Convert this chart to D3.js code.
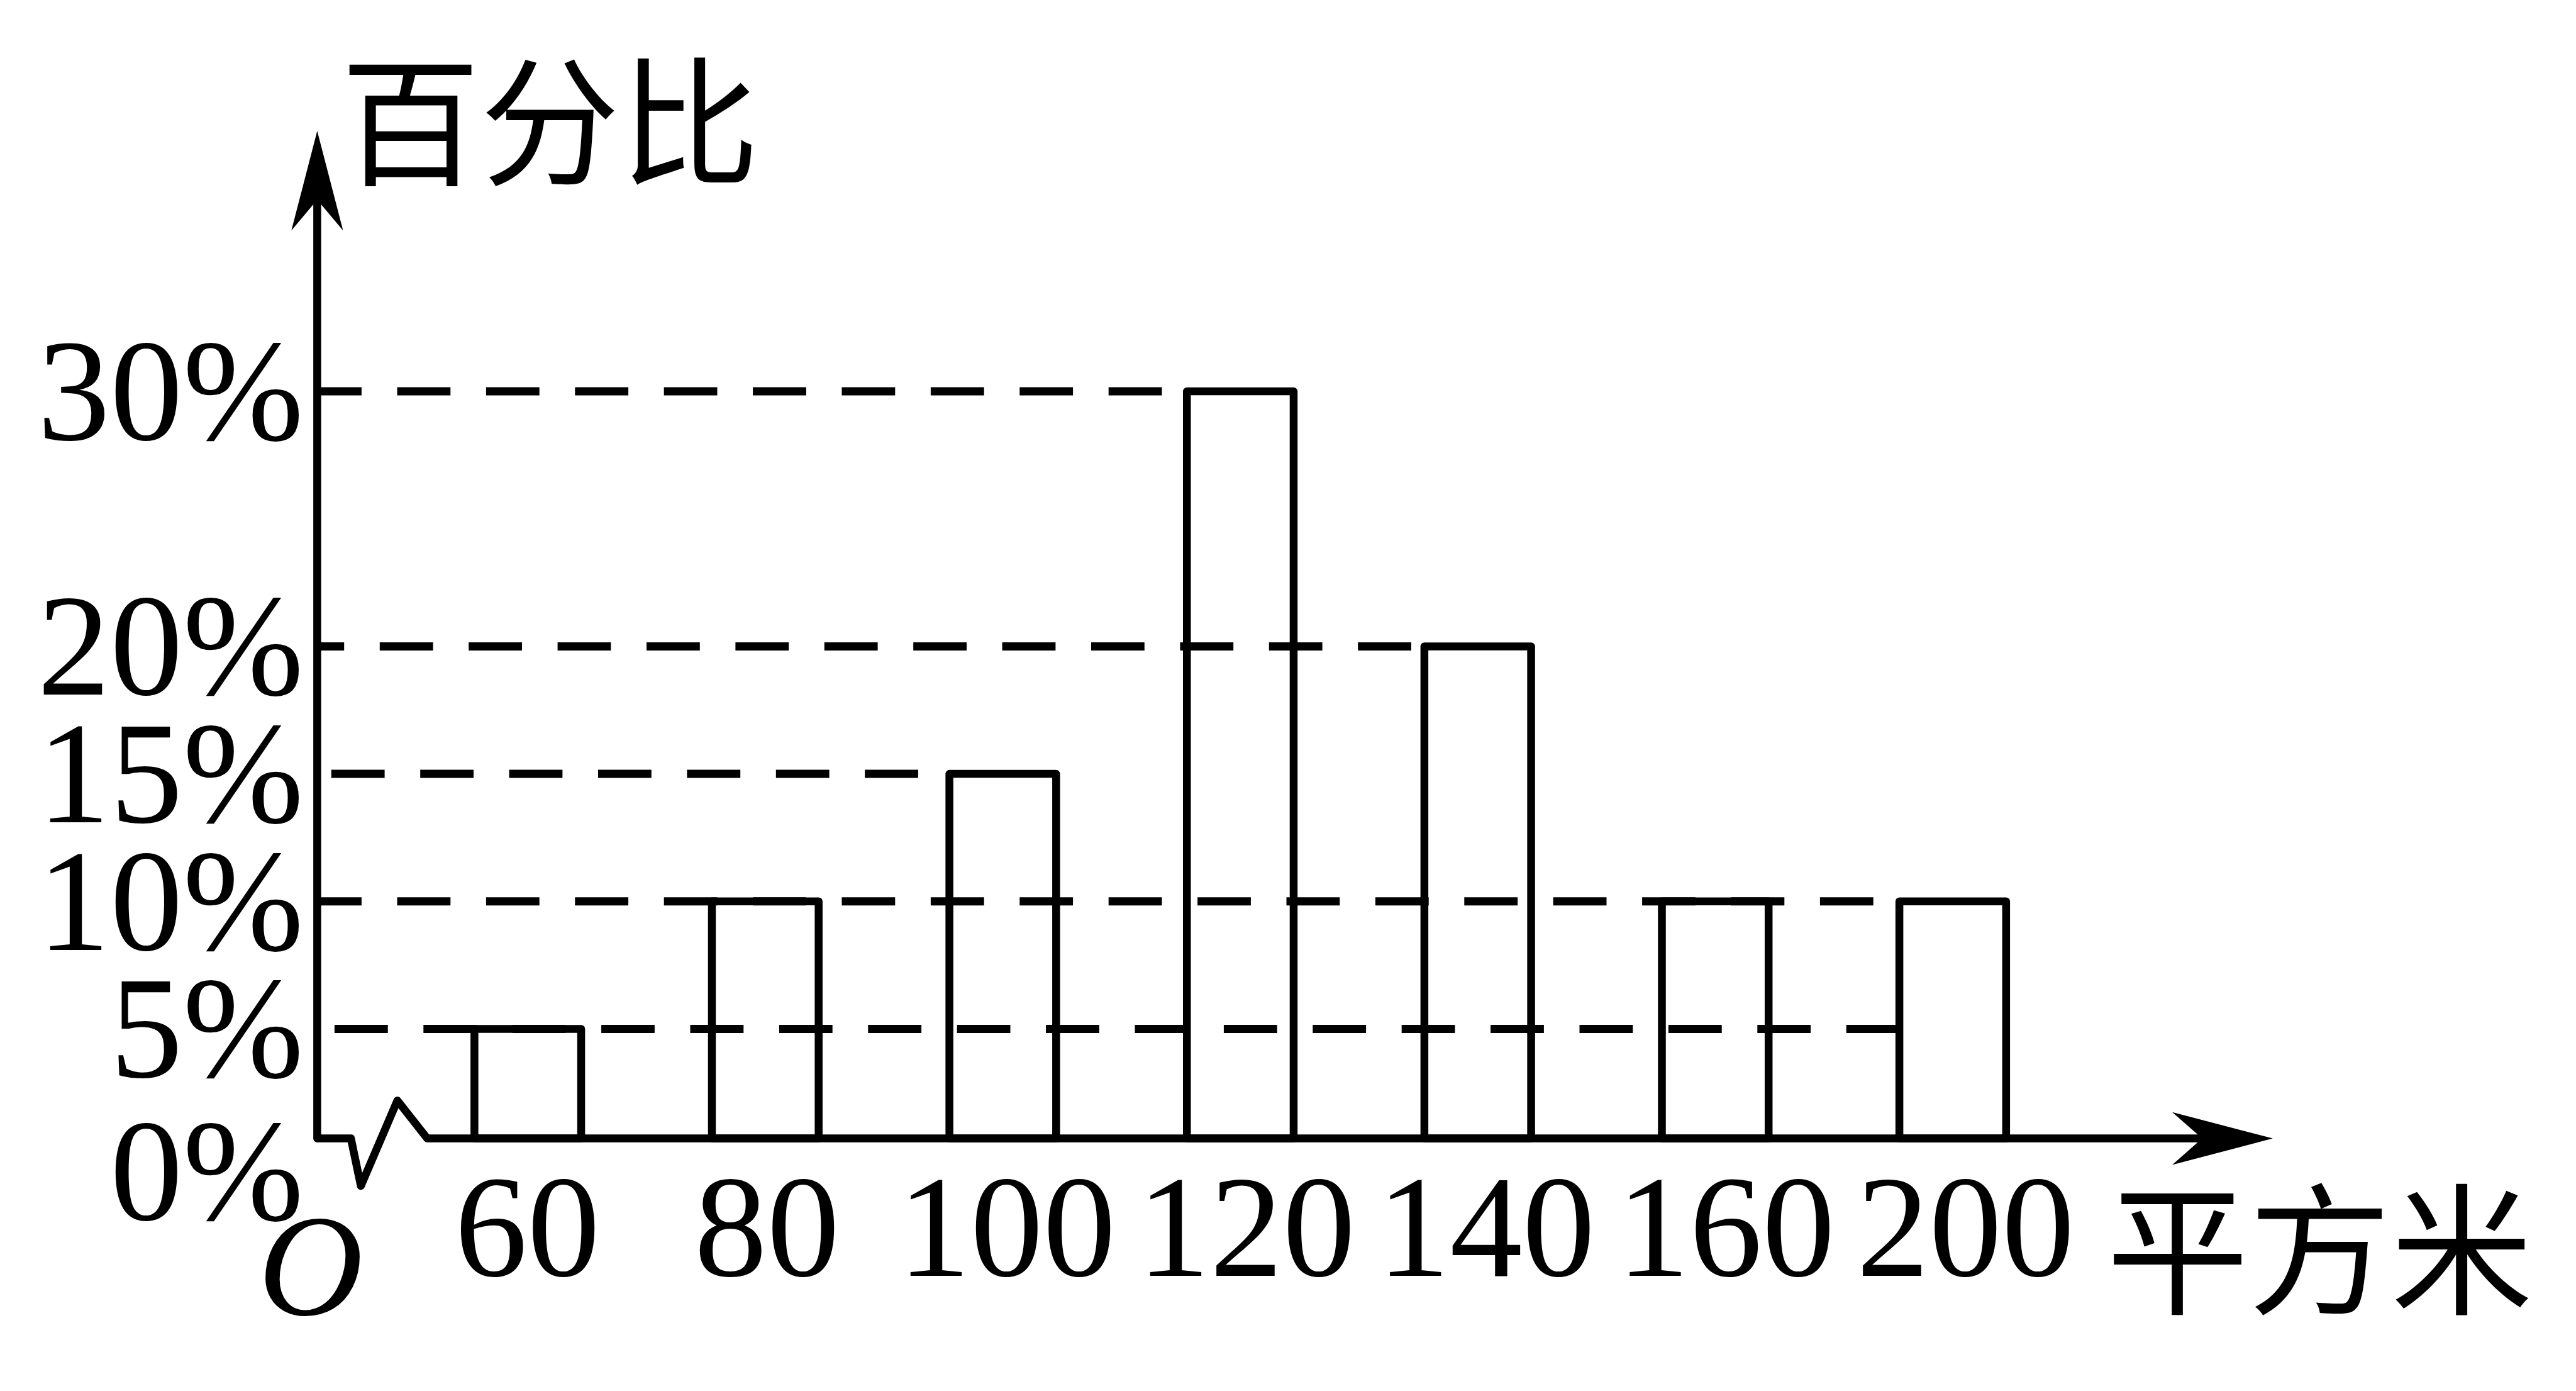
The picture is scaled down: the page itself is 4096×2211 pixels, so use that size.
<!DOCTYPE html>
<html>
<head>
<meta charset="utf-8">
<script src="https://cdn.jsdelivr.net/npm/d3@7"></script>
<style>
  html, body { margin: 0; padding: 0; background: #fff; }
  svg { display: block; }
</style>
</head>
<body>
<script>
// ---------- data ----------
const categories = ["60", "80", "100", "120", "140", "160", "200"];
const values = [5, 10, 15, 30, 20, 10, 10];           // percent
const yTicks = [0, 5, 10, 15, 20, 30];
const yTickLabels = ["0%", "5%", "10%", "15%", "20%", "30%"];
const guideTicks = [5, 10, 15, 20, 30];
const guideEnds = ["200", "200", "100", "140", "120"]; // bar whose left edge ends each guide
const yTitle = "百分比";
const xTitle = "平方米";
const originLabel = "O";

// ---------- layout ----------
const W = 4096, H = 2211;
const serif = "'Liberation Serif', 'Times New Roman', serif";
const cjk = "'Noto Sans CJK SC', 'Noto Sans CJK JP', sans-serif";
const lw = 12.5;

const svg = d3.select("body").append("svg")
  .attr("width", W).attr("height", H)
  .attr("viewBox", `0 0 ${W} ${H}`);
svg.append("rect").attr("width", W).attr("height", H).attr("fill", "#fff");

const axisX = 504.4;
const y = d3.scaleLinear().domain([0, 5, 30]).range([1809.6, 1635.4, 622.1]);
const x = d3.scaleBand().domain(categories).range([650.4, 3293.8])
  .paddingInner(0.5506).paddingOuter(0.2753);
const xLab = d3.scalePoint().domain(categories).range([838.4, 3125.3]);

// ---------- dashed guides ----------
const dashOffsets = {5: 113.9, 10: 14.3, 15: 119, 20: 42, 30: 14.3};
svg.append("g").selectAll("line").data(guideTicks).join("line")
  .attr("x1", axisX)
  .attr("x2", (d, i) => x(guideEnds[i]))
  .attr("y1", d => y(d)).attr("y2", d => y(d))
  .attr("stroke", "#000").attr("stroke-width", 13)
  .attr("stroke-dasharray", "84.8 56.6")
  .attr("stroke-dashoffset", d => dashOffsets[d]);

// ---------- bars ----------
svg.append("g").selectAll("rect").data(values).join("rect")
  .attr("x", (d, i) => x(categories[i]))
  .attr("y", d => y(d))
  .attr("width", x.bandwidth())
  .attr("height", d => y(0) - y(d))
  .attr("fill", "none").attr("stroke", "#000")
  .attr("stroke-width", lw).attr("stroke-linejoin", "round");

// ---------- axes ----------
const y0 = y(0);
const xArrowTip = 3613.9, xArrowBack = 3454, xArrowNotch = 3501.6, xArrowHalf = 41.85;
const yArrowTip = 208.1, yArrowBack = 366.4, yArrowNotch = 317.4, yArrowHalf = 41.1;

const axisPath = d3.path();
axisPath.moveTo(axisX, yArrowNotch);
axisPath.lineTo(axisX, y0);
axisPath.lineTo(558, y0);
axisPath.lineTo(573.8, 1885);
axisPath.lineTo(631.9, 1749.3);
axisPath.lineTo(679.4, y0);
axisPath.lineTo(xArrowNotch, y0);
svg.append("path").attr("d", axisPath.toString())
  .attr("fill", "none").attr("stroke", "#000")
  .attr("stroke-width", lw).attr("stroke-linejoin", "round");

// y arrow
svg.append("path")
  .attr("d", `M${axisX},${yArrowTip} L${axisX + yArrowHalf},${yArrowBack} L${axisX},${yArrowNotch} L${axisX - yArrowHalf},${yArrowBack} Z`)
  .attr("fill", "#000");
// x arrow
svg.append("path")
  .attr("d", `M${xArrowTip},${y0} L${xArrowBack},${y0 + xArrowHalf} L${xArrowNotch},${y0} L${xArrowBack},${y0 - xArrowHalf} Z`)
  .attr("fill", "#000");

// ---------- tick labels ----------
svg.append("g").selectAll("text").data(yTicks).join("text")
  .attr("x", 483)
  .attr("y", d => d === 0 ? 1939 : y(d) + 77)
  .attr("text-anchor", "end")
  .attr("font-family", serif).attr("font-size", 231)
  .text((d, i) => yTickLabels[i]);

svg.append("g").selectAll("text").data(categories).join("text")
  .attr("x", d => xLab(d))
  .attr("y", 2028)
  .attr("text-anchor", "middle")
  .attr("font-family", serif).attr("font-size", 231)
  .text(d => d);

// origin
svg.append("text")
  .attr("x", 494).attr("y", 2090)
  .attr("text-anchor", "middle")
  .attr("font-family", serif).attr("font-style", "italic").attr("font-size", 231)
  .text(originLabel);

// axis titles
svg.append("text")
  .attr("x", 874.6).attr("y", 179.5)
  .attr("text-anchor", "middle").attr("dominant-baseline", "central")
  .attr("font-family", cjk).attr("font-size", 222)
  .text(yTitle);

svg.append("text")
  .attr("x", 3688.6).attr("y", 1973.2)
  .attr("text-anchor", "middle").attr("dominant-baseline", "central")
  .attr("font-family", cjk).attr("font-size", 226)
  .text(xTitle);
</script>
</body>
</html>
